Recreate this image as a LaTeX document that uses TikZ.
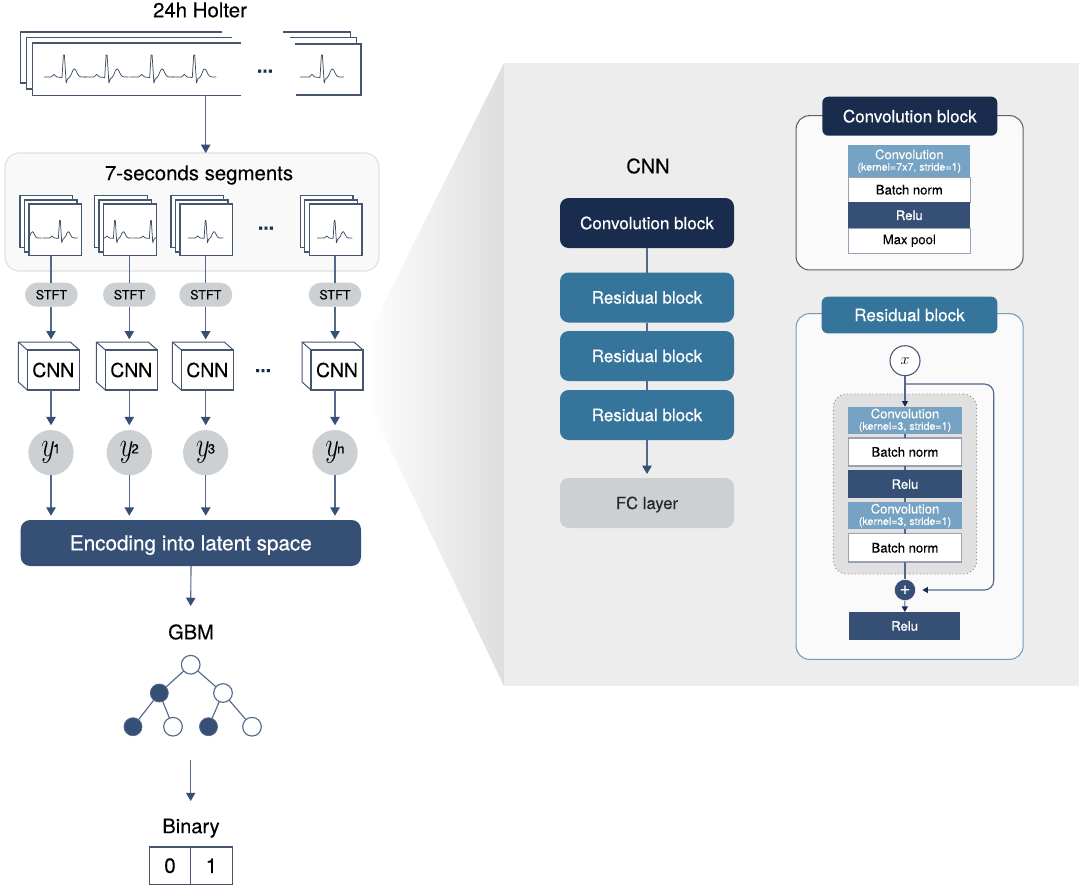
\documentclass[tikz,border=0pt]{standalone}
\usepackage{fontspec}
\usepackage{graphicx}
\setmainfont[FakeBold=0.12]{TeX Gyre Heros}
\newfontfamily\medf[FakeBold=0.5]{TeX Gyre Heros}
\usetikzlibrary{arrows.meta,shapes.misc}
\definecolor{navy}{HTML}{364F75}
\definecolor{dnavy}{HTML}{1A2C4E}
\definecolor{teal1}{HTML}{35749B}
\definecolor{lblue}{HTML}{76A3C3}
\definecolor{pgray}{HTML}{CDD0D3}
\definecolor{panel}{HTML}{EDEDED}
\definecolor{lnc}{HTML}{55678A}
\definecolor{edge}{HTML}{46566F}
\definecolor{wbord}{HTML}{98A2B3}
\newcommand{\fs}[1]{\fontsize{#1}{#1}\selectfont}
% style, x1, y1, x2, y2, name, text
\newcommand{\bx}[7]{\node[#1,minimum width={(#4-(#2))*.75pt},minimum height={(#5-(#3))*.75pt}] (#6) at ({(#2+#4)/2},{(#3+#5)/2}) {#7};}
% R-peak x, baseline y, scale
\newcommand{\ecgbeat}[3]{\draw[ecg,shift={(#1,#2)},xscale=#3,yscale=#3] (-22,0) -- (-13,0) .. controls (-11.5,0) and (-11,-2.6) .. (-10,-2.6) .. controls (-9,-2.6) and (-8.5,0) .. (-7,0) -- (-2,.5) -- (-.6,-22) -- (.4,-22) -- (2.2,6) -- (3.5,2) .. controls (5,1) and (6,0) .. (7,-2) .. controls (8,-4.5) and (9,-8) .. (10.5,-8) .. controls (12,-8) and (13,-3) .. (15,-1) .. controls (16,0) and (17,0) .. (22,0);}
\newcommand{\minidots}[2]{\node[anchor=base,text=dnavy,inner sep=0pt] at (#1,#2) {\fs{14.5}\bfseries ...};}
% front left, name
\newcommand{\sstack}[2]{%
 \draw[page] ({#1-9},195.7) rectangle ++(52.7,52);
 \draw[page] ({#1-4.7},200) rectangle ++(52.7,52);
 \bx{pagenode}{#1}{204}{#1+52.7}{255.7}{#2}{}}
\newcommand{\cube}[2]{%
 \draw[cubeln] (#1,350) -- ++(-9,-8) -- ++(52,0) -- ++(9,8);
 \draw[cubeln] (#1,390) -- ++(-9,-8) -- ++(0,-40);
 \bx{cubefront}{#1}{350}{#1+52}{390}{#2}{\fs{14.5}CNN}}
\newcommand{\ynode}[3]{\node[ycirc] (#2) at (#1,452.7) {\scalebox{.8}[1.05]{\fs{24}$y$}\kern-1.5pt\raisebox{2.5pt}{\fs{10}#3}};}
\tikzset{
 ecg/.style={draw=edge!85!black,line width=.55pt,line join=round},
 page/.style={draw=edge,fill=white,line width=.8pt},
 pagenode/.style={draw=edge,fill=white,line width=.8pt,inner sep=0pt,outer sep=0pt},
 cubeln/.style={draw=edge,fill=white,line width=.75pt,line join=round},
 cubefront/.style={draw=edge,fill=white,line width=.8pt,inner sep=0pt,outer sep=0pt},
 arr/.style={draw=lnc,line width=.85pt,-{Triangle[width=7pt,length=6.2pt,color=navy]}},
 sarr/.style={draw=lnc,line width=.85pt,-{Triangle[width=4.5pt,length=4.2pt,color=dnavy]}},
 ln/.style={draw=lnc,line width=.85pt},
 pill/.style={rounded rectangle,fill=pgray,inner sep=0pt,outer sep=0pt},
 ycirc/.style={circle,fill=pgray,minimum size=34pt,inner sep=0pt,outer sep=0pt},
 bigb/.style={rounded corners=6.5pt,inner sep=0pt,outer sep=0pt,text=white,font=\medf\fs{12.75}},
 hdr/.style={rounded corners=4.5pt,inner sep=0pt,outer sep=0pt,text=white,font=\medf\fs{12.75}},
 cell/.style={inner sep=0pt,outer sep=0pt,font=\fs{9.8},align=center},
 wcell/.style={cell,fill=white,draw=wbord,line width=.9pt},
 ccell/.style={cell,fill=lblue,text=white},
 rcell/.style={cell,fill=navy,text=white},
 opc/.style={circle,draw=lnc,fill=white,line width=.85pt,minimum size=14pt,inner sep=0pt,outer sep=0pt},
 flc/.style={circle,draw=lnc,fill=navy,line width=.6pt,minimum size=13.5pt,inner sep=0pt,outer sep=0pt},
 title/.style={inner sep=0pt,font=\fs{15}},
}
\newcommand{\convtxt}[1]{Convolution\\[-1.2pt]{\fs{8}(kernel=#1, stride=1)}}
\begin{document}
\begin{tikzpicture}[x=.75pt,y=-.75pt]
\useasboundingbox (0,0) rectangle (1084,890);
\fill[white] (0,0) rectangle (1084,890);
% zoom wedge and panel
\shade[left color=white,right color=black!13] (504,63) -- (363,345) -- (363,392) -- (504,686) -- cycle;
\fill[panel] (504,63) rectangle (1079,686);

% Holter
\node[title] (holter) at (200,10) {\fs{15.3}24h Holter};
\draw[page,fill=none] (222,32) -- (20.7,32) -- (20.7,83) -- (26.7,83);
\draw[page,fill=none] (231.7,37.3) -- (26.7,37.3) -- (26.7,89) -- (32.3,89);
\draw[page,fill=none] (240.7,43) -- (32.3,43) -- (32.3,95.3) -- (240.7,95.3);
\draw[page,fill=none] (283.3,32) -- (350.7,32) -- (350.7,37.5);
\draw[page,fill=none] (290,37.5) -- (356.3,37.5) -- (356.3,43.5);
\draw[page,fill=none] (295,44) -- (361,44) -- (361,95) -- (296,95);
\begin{scope}
\clip (44,40) rectangle (219.5,95);
\foreach \rx in {64,106.7,151.7,194.3} {\ecgbeat{\rx}{77}{1}}
\end{scope}
\begin{scope}
\clip (295,40) rectangle (347.5,95);
\ecgbeat{322}{77}{1}
\end{scope}
\minidots{265}{72.5}
\coordinate (holterb) at (205.7,95.3);

% segments panel
\node[draw=black!12,fill=black!2.5,rounded corners=10.5pt,line width=.8pt,minimum width={374*.75pt},minimum height={118*.75pt},inner sep=0pt,outer sep=0pt] (seg) at (192,212) {};
\node[title,text height=10.8pt,text depth=0pt] (segt) at (199,173) {\fs{15.3}7-seconds segments};
\draw[arr] (holterb) -- (seg.north -| holterb);

\sstack{29}{s1}
\sstack{103.7}{s2}
\sstack{180}{s3}
\sstack{309.3}{s4}
\begin{scope}\clip (29.5,204) rectangle (81.5,255);
\ecgbeat{24}{238}{.8}\ecgbeat{60}{238}{.8}\end{scope}
\begin{scope}\clip (104,204) rectangle (155.5,255);
\ecgbeat{115}{238}{.8}\ecgbeat{151}{238}{.8}\end{scope}
\begin{scope}\clip (182,204) rectangle (229,255);
\ecgbeat{205.7}{238}{.8}\end{scope}
\begin{scope}\clip (311,204) rectangle (358,255);
\ecgbeat{334.7}{238}{.8}\end{scope}
\minidots{266}{229.5}

% STFT
\bx{pill}{25}{282.7}{77.7}{306.7}{t1}{\fs{9.5}STFT}
\bx{pill}{103}{282.7}{155.7}{306.7}{t2}{\fs{9.5}STFT}
\bx{pill}{179.3}{282.7}{232.3}{306.7}{t3}{\fs{9.5}STFT}
\bx{pill}{308.7}{282.7}{361.3}{306.7}{t4}{\fs{9.5}STFT}

% CNN cubes
\cube{27.3}{c1}
\cube{105.3}{c2}
\cube{181.3}{c3}
\cube{311}{c4}
\minidots{263}{372}

% y
\ynode{51}{y1}{1}
\ynode{129.3}{y2}{2}
\ynode{205.7}{y3}{3}
\ynode{335}{y4}{n}

% encoding
\bx{rounded corners=7pt,fill=navy,inner sep=0pt,outer sep=0pt,text=white,font=\medf\fs{15.5},text height=11pt,text depth=0pt}{20.7}{520}{361}{566}{enc}{Encoding into latent space}

% column connectors
\foreach \s/\t/\c/\y in {s1/t1/c1/y1,s2/t2/c2/y2,s3/t3/c3/y3,s4/t4/c4/y4}{
 \draw[ln] (\s.south -| \y.north) -- (\t.north -| \y.north);
 \draw[arr] (\t.south -| \y.north) -- ([yshift=8pt]\c.north -| \y.north);
 \draw[arr,shorten >=3.6pt] (\c.south -| \y.north) -- (\y.north);
 \draw[arr,shorten >=3.2pt] (\y.south) -- (\y.south |- enc.north);
}

% GBM
\node[title] (gbm) at (191,632) {GBM};
\draw[arr] (enc.south -| gbm) -- (190.7,606);
\node[opc] (n0) at (190.7,664.7) {};
\node[flc] (n1) at (159.3,693) {};
\node[opc] (n2) at (223,693) {};
\node[flc] (n3) at (133,726.7) {};
\node[opc] (n4) at (173,726.7) {};
\node[flc] (n5) at (208.5,726.7) {};
\node[opc] (n6) at (252,726.7) {};
\foreach \a/\b in {n0/n1,n0/n2,n1/n3,n1/n4,n2/n5,n2/n6}{\draw[ln] (\a) -- (\b);}
\coordinate (gbmout) at (190.7,760);
\node[title,text height=10.8pt,text depth=0pt] (bin) at (191,826) {Binary};
\draw[arr] (gbmout) -- (190.7,801);
\bx{draw=edge,line width=.8pt,inner sep=0pt,outer sep=0pt,font=\fs{15.5}}{149.3}{847}{190.7}{884.3}{b0}{0}
\bx{draw=edge,line width=.8pt,inner sep=0pt,outer sep=0pt,font=\fs{15.5}}{190.7}{847}{232.3}{884.3}{b1}{1}

% CNN column on panel
\node[inner sep=0pt,font=\fs{15}] (cnnt) at (648,166) {CNN};
\bx{bigb,fill=dnavy}{560}{198}{734}{248}{k0}{Convolution block}
\bx{bigb,fill=teal1}{560}{272.5}{734}{322.5}{k1}{Residual block}
\bx{bigb,fill=teal1}{560}{331}{734}{381}{k2}{Residual block}
\bx{bigb,fill=teal1}{560}{390}{734}{440}{k3}{Residual block}
\bx{bigb,fill=pgray,text=black!85,font=\fs{12.5},text height=9pt,text depth=0pt}{560}{478}{734}{528}{k4}{FC layer}
\draw[ln] (k0) -- (k1);
\draw[ln] (k1) -- (k2);
\draw[ln] (k2) -- (k3);
\draw[arr,shorten >=3pt] (k3) -- (k4);

% Convolution block detail
\node[draw=black!62,fill=black!2,rounded corners=10pt,line width=.8pt,minimum width={227*.75pt},minimum height={154.3*.75pt},inner sep=0pt,outer sep=0pt] (cp) at (909.6,192.8) {};
\bx{hdr,fill=dnavy}{822.3}{96.7}{997.3}{135.7}{ch}{Convolution block}
\bx{ccell}{848.3}{145}{970.3}{177.3}{a1}{\convtxt{7x7}}
\bx{wcell}{848.3}{177.3}{970.3}{202.3}{a2}{Batch norm}
\bx{rcell,font=\medf\fs{9.8}}{848.3}{202.3}{970.3}{228.3}{a3}{Relu}
\bx{wcell}{848.3}{228.3}{970.3}{253.3}{a4}{Max pool}

% Residual block detail
\node[draw=teal1!70,fill=black!2,rounded corners=10pt,line width=.8pt,minimum width={227*.75pt},minimum height={345.6*.75pt},inner sep=0pt,outer sep=0pt] (rp) at (909.6,486.5) {};
\bx{hdr,fill=teal1}{821.7}{296.7}{997.3}{333.3}{rh}{Residual block}
\node[draw=black!45,dotted,fill=black!12,rounded corners=10pt,line width=.7pt,minimum width={143.4*.75pt},minimum height={180*.75pt},inner sep=0pt,outer sep=0pt] (dp) at (905,484) {};
\node[circle,draw=edge,fill=white,line width=.8pt,minimum size=22.5pt,inner sep=0pt,outer sep=0pt] (xn) at (905,360.7) {\fs{13}$x$};
\bx{ccell}{848.3}{406.7}{961.7}{434}{r1}{\convtxt{3}}
\bx{wcell}{848.3}{438}{961.7}{466}{r2}{Batch norm}
\bx{rcell,font=\medf\fs{9.8}}{848.3}{470}{961.7}{498.3}{r3}{Relu}
\bx{ccell}{848.3}{501.7}{961.7}{529.3}{r4}{\convtxt{3}}
\bx{wcell}{848.3}{533.7}{961.7}{562}{r5}{Batch norm}
\node[circle,fill=navy,draw=white,line width=.4pt,minimum size=16pt,inner sep=0pt,outer sep=0pt,text=white,font=\fs{14}] (plus) at (905,590) {+};
\bx{rcell,font=\medf\fs{9.8}}{849}{612}{960.3}{640}{r6}{Relu}
\draw[sarr] (xn) -- (r1);
\foreach \a/\b in {r1/r2,r2/r3,r3/r4,r4/r5,r5/plus}{\draw[ln] (\a) -- (\b);}
\draw[sarr] (plus) -- (r6);
\coordinate (skip) at (905,384);
\draw[sarr,rounded corners=7pt,shorten >=5pt] (skip) -- (993.7,384) -- (993.7,590) -- (plus.east);
\end{tikzpicture}
\end{document}
